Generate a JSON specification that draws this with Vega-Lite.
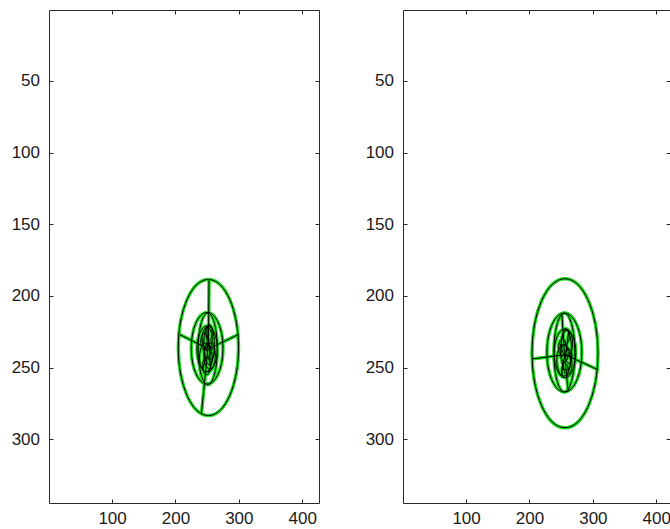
{
  "$schema": "https://vega.github.io/schema/vega-lite/v6.json",
  "padding": {"left": 10, "top": 9, "right": 0, "bottom": 0},
  "background": "white",
  "bounds": "flush",
  "spacing": 84,
  "config": {
    "view": {"stroke": "#2a2a2a", "strokeWidth": 1},
    "axis": {"grid": false, "domain": false, "labelFont": "Liberation Sans", "labelFontSize": 17, "labelColor": "#1a1a1a", "tickColor": "#2a2a2a", "tickWidth": 1, "title": null}
  },
  "datasets": {
    "framesL": [
      {"cx": 252, "cy": 236, "r": 47.5, "kind": "round"},
      {"cx": 250, "cy": 236.5, "r": 25, "kind": "round"},
      {"cx": 251, "cy": 237, "r": 25, "kind": "narrow"},
      {"cx": 250, "cy": 237, "r": 16, "kind": "round"},
      {"cx": 253, "cy": 234, "r": 14, "kind": "narrow"},
      {"cx": 248, "cy": 243, "r": 10, "kind": "round"},
      {"cx": 254, "cy": 242, "r": 9, "kind": "round"},
      {"cx": 250, "cy": 230, "r": 8, "kind": "round"},
      {"cx": 251, "cy": 238, "r": 5, "kind": "round"},
      {"cx": 246, "cy": 232, "r": 6, "kind": "round"},
      {"cx": 256, "cy": 238, "r": 6, "kind": "round"},
      {"cx": 249, "cy": 249, "r": 6, "kind": "round"},
      {"cx": 253, "cy": 226, "r": 5, "kind": "round"}
    ],
    "spokesL": [
      {"x1": 252, "y1": 236, "x2": 253, "y2": 189},
      {"x1": 251, "y1": 238, "x2": 241, "y2": 282},
      {"x1": 252, "y1": 237, "x2": 207, "y2": 227},
      {"x1": 252, "y1": 237, "x2": 299, "y2": 227},
      {"x1": 250, "y1": 237, "x2": 250, "y2": 221},
      {"x1": 253, "y1": 234, "x2": 255, "y2": 248},
      {"x1": 248, "y1": 243, "x2": 243, "y2": 251},
      {"x1": 246, "y1": 232, "x2": 241, "y2": 230},
      {"x1": 256, "y1": 238, "x2": 261, "y2": 236}
    ],
    "framesR": [
      {"cx": 256, "cy": 240, "r": 52, "kind": "round"},
      {"cx": 255, "cy": 239.5, "r": 27.5, "kind": "round"},
      {"cx": 255, "cy": 239.5, "r": 27.5, "kind": "narrow"},
      {"cx": 256, "cy": 240, "r": 17, "kind": "round"},
      {"cx": 258, "cy": 238, "r": 14, "kind": "narrow"},
      {"cx": 254, "cy": 245, "r": 11, "kind": "round"},
      {"cx": 259, "cy": 233, "r": 9, "kind": "round"},
      {"cx": 255, "cy": 240, "r": 6, "kind": "round"},
      {"cx": 260, "cy": 248, "r": 7, "kind": "round"},
      {"cx": 252, "cy": 236, "r": 6, "kind": "round"},
      {"cx": 262, "cy": 242, "r": 5, "kind": "round"},
      {"cx": 256, "cy": 252, "r": 5, "kind": "round"},
      {"cx": 258, "cy": 228, "r": 5, "kind": "round"}
    ],
    "spokesR": [
      {"x1": 256, "y1": 241, "x2": 204, "y2": 244},
      {"x1": 256, "y1": 241, "x2": 308, "y2": 251.5},
      {"x1": 255, "y1": 239.5, "x2": 251, "y2": 212.5},
      {"x1": 255, "y1": 239.5, "x2": 261, "y2": 266.5},
      {"x1": 258, "y1": 238, "x2": 262, "y2": 224},
      {"x1": 254, "y1": 245, "x2": 250, "y2": 255},
      {"x1": 252, "y1": 236, "x2": 247, "y2": 233},
      {"x1": 262, "y1": 242, "x2": 266, "y2": 245}
    ]
  },
  "hconcat": [
    {
      "width": 270,
      "height": 493,
      "resolve": {"axis": {"x": "independent", "y": "independent"}},
      "layer": [
        {
          "data": {"name": "framesL"},
          "mark": {"type": "point", "filled": false, "stroke": "#1fdc1f", "strokeWidth": 3.5, "opacity": 1},
          "encoding": {
            "x": {"field": "cx", "type": "quantitative", "scale": {"domain": [0.5, 426.5], "nice": false, "zero": false}, "axis": {"orient": "bottom", "values": [100, 200, 300, 400], "ticks": false, "labelPadding": 7}},
            "y": {"field": "cy", "type": "quantitative", "scale": {"domain": [0.5, 344.5], "reverse": true, "nice": false, "zero": false}, "axis": {"orient": "left", "values": [50, 100, 150, 200, 250, 300], "ticks": false, "labelPadding": 9.5}},
            "size": {"field": "r", "type": "quantitative", "scale": {"type": "pow", "exponent": 2, "domain": [0, 100], "range": [0, 82140]}, "legend": null},
            "shape": {"field": "kind", "type": "nominal", "scale": {"domain": ["round", "narrow"], "range": ["M0,-1C0.2443,-1 0.4424,-0.5523 0.4424,0C0.4424,0.5523 0.2443,1 0,1C-0.2443,1 -0.4424,0.5523 -0.4424,0C-0.4424,-0.5523 -0.2443,-1 0,-1Z", "M0,-1C0.1466,-1 0.2654,-0.5523 0.2654,0C0.2654,0.5523 0.1466,1 0,1C-0.1466,1 -0.2654,0.5523 -0.2654,0C-0.2654,-0.5523 -0.1466,-1 0,-1Z"]}, "legend": null}
          }
        },
        {
          "data": {"name": "spokesL"},
          "mark": {"type": "rule", "stroke": "#1fdc1f", "strokeWidth": 3.5},
          "encoding": {
            "x": {"field": "x1", "type": "quantitative", "scale": {"domain": [0.5, 426.5], "nice": false, "zero": false}, "axis": {"orient": "bottom", "values": [100, 200, 300, 400], "labels": false, "tickSize": -4}},
            "y": {"field": "y1", "type": "quantitative", "scale": {"domain": [0.5, 344.5], "reverse": true, "nice": false, "zero": false}, "axis": {"orient": "left", "values": [50, 100, 150, 200, 250, 300], "labels": false, "tickSize": -4}},
            "x2": {"field": "x2"},
            "y2": {"field": "y2"}
          }
        },
        {
          "data": {"name": "framesL"},
          "mark": {"type": "point", "filled": false, "stroke": "#000000", "strokeWidth": 1, "opacity": 1},
          "encoding": {
            "x": {"field": "cx", "type": "quantitative", "scale": {"domain": [0.5, 426.5], "nice": false, "zero": false}, "axis": {"orient": "top", "values": [100, 200, 300, 400], "labels": false, "tickSize": -4}},
            "y": {"field": "cy", "type": "quantitative", "scale": {"domain": [0.5, 344.5], "reverse": true, "nice": false, "zero": false}, "axis": {"orient": "right", "values": [50, 100, 150, 200, 250, 300], "labels": false, "tickSize": -4}},
            "size": {"field": "r", "type": "quantitative", "scale": {"type": "pow", "exponent": 2, "domain": [0, 100], "range": [0, 82140]}, "legend": null},
            "shape": {"field": "kind", "type": "nominal", "scale": {"domain": ["round", "narrow"], "range": ["M0,-1C0.2443,-1 0.4424,-0.5523 0.4424,0C0.4424,0.5523 0.2443,1 0,1C-0.2443,1 -0.4424,0.5523 -0.4424,0C-0.4424,-0.5523 -0.2443,-1 0,-1Z", "M0,-1C0.1466,-1 0.2654,-0.5523 0.2654,0C0.2654,0.5523 0.1466,1 0,1C-0.1466,1 -0.2654,0.5523 -0.2654,0C-0.2654,-0.5523 -0.1466,-1 0,-1Z"]}, "legend": null}
          }
        },
        {
          "data": {"name": "spokesL"},
          "mark": {"type": "rule", "stroke": "#000000", "strokeWidth": 1},
          "encoding": {
            "x": {"field": "x1", "type": "quantitative", "scale": {"domain": [0.5, 426.5], "nice": false, "zero": false}, "axis": null},
            "y": {"field": "y1", "type": "quantitative", "scale": {"domain": [0.5, 344.5], "reverse": true, "nice": false, "zero": false}, "axis": null},
            "x2": {"field": "x2"},
            "y2": {"field": "y2"}
          }
        }
      ]
    },
    {
      "width": 267,
      "height": 493,
      "resolve": {"axis": {"x": "independent", "y": "independent"}},
      "layer": [
        {
          "data": {"name": "framesR"},
          "mark": {"type": "point", "filled": false, "stroke": "#1fdc1f", "strokeWidth": 3.5, "opacity": 1},
          "encoding": {
            "x": {"field": "cx", "type": "quantitative", "scale": {"domain": [0.5, 421.6], "nice": false, "zero": false}, "axis": {"orient": "bottom", "values": [100, 200, 300, 400], "ticks": false, "labelPadding": 7}},
            "y": {"field": "cy", "type": "quantitative", "scale": {"domain": [0.5, 344.5], "reverse": true, "nice": false, "zero": false}, "axis": {"orient": "left", "values": [50, 100, 150, 200, 250, 300], "ticks": false, "labelPadding": 9.5}},
            "size": {"field": "r", "type": "quantitative", "scale": {"type": "pow", "exponent": 2, "domain": [0, 100], "range": [0, 82140]}, "legend": null},
            "shape": {"field": "kind", "type": "nominal", "scale": {"domain": ["round", "narrow"], "range": ["M0,-1C0.2443,-1 0.4424,-0.5523 0.4424,0C0.4424,0.5523 0.2443,1 0,1C-0.2443,1 -0.4424,0.5523 -0.4424,0C-0.4424,-0.5523 -0.2443,-1 0,-1Z", "M0,-1C0.1466,-1 0.2654,-0.5523 0.2654,0C0.2654,0.5523 0.1466,1 0,1C-0.1466,1 -0.2654,0.5523 -0.2654,0C-0.2654,-0.5523 -0.1466,-1 0,-1Z"]}, "legend": null}
          }
        },
        {
          "data": {"name": "spokesR"},
          "mark": {"type": "rule", "stroke": "#1fdc1f", "strokeWidth": 3.5},
          "encoding": {
            "x": {"field": "x1", "type": "quantitative", "scale": {"domain": [0.5, 421.6], "nice": false, "zero": false}, "axis": {"orient": "bottom", "values": [100, 200, 300, 400], "labels": false, "tickSize": -4}},
            "y": {"field": "y1", "type": "quantitative", "scale": {"domain": [0.5, 344.5], "reverse": true, "nice": false, "zero": false}, "axis": {"orient": "left", "values": [50, 100, 150, 200, 250, 300], "labels": false, "tickSize": -4}},
            "x2": {"field": "x2"},
            "y2": {"field": "y2"}
          }
        },
        {
          "data": {"name": "framesR"},
          "mark": {"type": "point", "filled": false, "stroke": "#000000", "strokeWidth": 1, "opacity": 1},
          "encoding": {
            "x": {"field": "cx", "type": "quantitative", "scale": {"domain": [0.5, 421.6], "nice": false, "zero": false}, "axis": {"orient": "top", "values": [100, 200, 300, 400], "labels": false, "tickSize": -4}},
            "y": {"field": "cy", "type": "quantitative", "scale": {"domain": [0.5, 344.5], "reverse": true, "nice": false, "zero": false}, "axis": {"orient": "right", "values": [50, 100, 150, 200, 250, 300], "labels": false, "tickSize": -4}},
            "size": {"field": "r", "type": "quantitative", "scale": {"type": "pow", "exponent": 2, "domain": [0, 100], "range": [0, 82140]}, "legend": null},
            "shape": {"field": "kind", "type": "nominal", "scale": {"domain": ["round", "narrow"], "range": ["M0,-1C0.2443,-1 0.4424,-0.5523 0.4424,0C0.4424,0.5523 0.2443,1 0,1C-0.2443,1 -0.4424,0.5523 -0.4424,0C-0.4424,-0.5523 -0.2443,-1 0,-1Z", "M0,-1C0.1466,-1 0.2654,-0.5523 0.2654,0C0.2654,0.5523 0.1466,1 0,1C-0.1466,1 -0.2654,0.5523 -0.2654,0C-0.2654,-0.5523 -0.1466,-1 0,-1Z"]}, "legend": null}
          }
        },
        {
          "data": {"name": "spokesR"},
          "mark": {"type": "rule", "stroke": "#000000", "strokeWidth": 1},
          "encoding": {
            "x": {"field": "x1", "type": "quantitative", "scale": {"domain": [0.5, 421.6], "nice": false, "zero": false}, "axis": null},
            "y": {"field": "y1", "type": "quantitative", "scale": {"domain": [0.5, 344.5], "reverse": true, "nice": false, "zero": false}, "axis": null},
            "x2": {"field": "x2"},
            "y2": {"field": "y2"}
          }
        }
      ]
    }
  ]
}
